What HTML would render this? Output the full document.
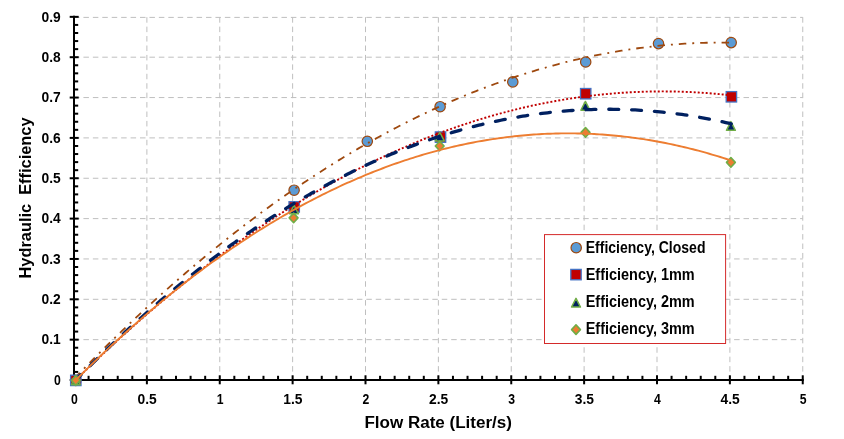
<!DOCTYPE html>
<html><head><meta charset="utf-8"><title>Chart</title>
<style>
html,body{margin:0;padding:0;background:#fff;}
body{width:844px;height:439px;overflow:hidden;font-family:"Liberation Sans",sans-serif;}
svg{display:block;will-change:transform;}
text{font-family:"Liberation Sans",sans-serif;font-weight:bold;fill:#000;}
</style></head><body>
<svg width="844" height="439" viewBox="0 0 844 439">
<rect x="0" y="0" width="844" height="439" fill="#ffffff"/>

<g stroke="#bfbfbf" stroke-width="1" stroke-dasharray="5.5 3.93" fill="none">
<line x1="74.00" y1="339.65" x2="802.75" y2="339.65"/>
<line x1="74.00" y1="299.30" x2="802.75" y2="299.30"/>
<line x1="74.00" y1="258.95" x2="802.75" y2="258.95"/>
<line x1="74.00" y1="218.60" x2="802.75" y2="218.60"/>
<line x1="74.00" y1="178.25" x2="802.75" y2="178.25"/>
<line x1="74.00" y1="137.90" x2="802.75" y2="137.90"/>
<line x1="74.00" y1="97.55" x2="802.75" y2="97.55"/>
<line x1="74.00" y1="57.20" x2="802.75" y2="57.20"/>
<line x1="74.00" y1="17.40" x2="802.75" y2="17.40"/>
<line x1="146.88" y1="16.85" x2="146.88" y2="380.00" stroke-dashoffset="-0.35"/>
<line x1="219.75" y1="16.85" x2="219.75" y2="380.00" stroke-dashoffset="-0.35"/>
<line x1="292.62" y1="16.85" x2="292.62" y2="380.00" stroke-dashoffset="-0.35"/>
<line x1="365.50" y1="16.85" x2="365.50" y2="380.00" stroke-dashoffset="-0.35"/>
<line x1="438.38" y1="16.85" x2="438.38" y2="380.00" stroke-dashoffset="-0.35"/>
<line x1="511.25" y1="16.85" x2="511.25" y2="380.00" stroke-dashoffset="-0.35"/>
<line x1="584.12" y1="16.85" x2="584.12" y2="380.00" stroke-dashoffset="-0.35"/>
<line x1="657.00" y1="16.85" x2="657.00" y2="380.00" stroke-dashoffset="-0.35"/>
<line x1="729.88" y1="16.85" x2="729.88" y2="380.00" stroke-dashoffset="-0.35"/>
<line x1="802.75" y1="16.85" x2="802.75" y2="380.00" stroke-dashoffset="-0.35"/>
</g>
<g stroke="#000" stroke-width="2" fill="none">
<line x1="74.00" y1="15.85" x2="74.00" y2="381.00"/>
<line x1="73.00" y1="380.00" x2="803.75" y2="380.00"/>
</g><g stroke="#000" stroke-width="2" fill="none">
<line x1="69.70" y1="380.00" x2="78.70" y2="380.00"/>
<line x1="74.00" y1="371.93" x2="78.20" y2="371.93"/>
<line x1="74.00" y1="363.86" x2="78.20" y2="363.86"/>
<line x1="74.00" y1="355.79" x2="78.20" y2="355.79"/>
<line x1="74.00" y1="347.72" x2="78.20" y2="347.72"/>
<line x1="69.70" y1="339.65" x2="78.70" y2="339.65"/>
<line x1="74.00" y1="331.58" x2="78.20" y2="331.58"/>
<line x1="74.00" y1="323.51" x2="78.20" y2="323.51"/>
<line x1="74.00" y1="315.44" x2="78.20" y2="315.44"/>
<line x1="74.00" y1="307.37" x2="78.20" y2="307.37"/>
<line x1="69.70" y1="299.30" x2="78.70" y2="299.30"/>
<line x1="74.00" y1="291.23" x2="78.20" y2="291.23"/>
<line x1="74.00" y1="283.16" x2="78.20" y2="283.16"/>
<line x1="74.00" y1="275.09" x2="78.20" y2="275.09"/>
<line x1="74.00" y1="267.02" x2="78.20" y2="267.02"/>
<line x1="69.70" y1="258.95" x2="78.70" y2="258.95"/>
<line x1="74.00" y1="250.88" x2="78.20" y2="250.88"/>
<line x1="74.00" y1="242.81" x2="78.20" y2="242.81"/>
<line x1="74.00" y1="234.74" x2="78.20" y2="234.74"/>
<line x1="74.00" y1="226.67" x2="78.20" y2="226.67"/>
<line x1="69.70" y1="218.60" x2="78.70" y2="218.60"/>
<line x1="74.00" y1="210.53" x2="78.20" y2="210.53"/>
<line x1="74.00" y1="202.46" x2="78.20" y2="202.46"/>
<line x1="74.00" y1="194.39" x2="78.20" y2="194.39"/>
<line x1="74.00" y1="186.32" x2="78.20" y2="186.32"/>
<line x1="69.70" y1="178.25" x2="78.70" y2="178.25"/>
<line x1="74.00" y1="170.18" x2="78.20" y2="170.18"/>
<line x1="74.00" y1="162.11" x2="78.20" y2="162.11"/>
<line x1="74.00" y1="154.04" x2="78.20" y2="154.04"/>
<line x1="74.00" y1="145.97" x2="78.20" y2="145.97"/>
<line x1="69.70" y1="137.90" x2="78.70" y2="137.90"/>
<line x1="74.00" y1="129.83" x2="78.20" y2="129.83"/>
<line x1="74.00" y1="121.76" x2="78.20" y2="121.76"/>
<line x1="74.00" y1="113.69" x2="78.20" y2="113.69"/>
<line x1="74.00" y1="105.62" x2="78.20" y2="105.62"/>
<line x1="69.70" y1="97.55" x2="78.70" y2="97.55"/>
<line x1="74.00" y1="89.48" x2="78.20" y2="89.48"/>
<line x1="74.00" y1="81.41" x2="78.20" y2="81.41"/>
<line x1="74.00" y1="73.34" x2="78.20" y2="73.34"/>
<line x1="74.00" y1="65.27" x2="78.20" y2="65.27"/>
<line x1="69.70" y1="57.20" x2="78.70" y2="57.20"/>
<line x1="74.00" y1="49.13" x2="78.20" y2="49.13"/>
<line x1="74.00" y1="41.06" x2="78.20" y2="41.06"/>
<line x1="74.00" y1="32.99" x2="78.20" y2="32.99"/>
<line x1="74.00" y1="24.92" x2="78.20" y2="24.92"/>
<line x1="69.70" y1="16.85" x2="78.70" y2="16.85"/>
<line x1="74.00" y1="375.30" x2="74.00" y2="384.30"/>
<line x1="88.58" y1="375.80" x2="88.58" y2="380.00"/>
<line x1="103.15" y1="375.80" x2="103.15" y2="380.00"/>
<line x1="117.72" y1="375.80" x2="117.72" y2="380.00"/>
<line x1="132.30" y1="375.80" x2="132.30" y2="380.00"/>
<line x1="146.88" y1="375.30" x2="146.88" y2="384.30"/>
<line x1="161.45" y1="375.80" x2="161.45" y2="380.00"/>
<line x1="176.02" y1="375.80" x2="176.02" y2="380.00"/>
<line x1="190.60" y1="375.80" x2="190.60" y2="380.00"/>
<line x1="205.18" y1="375.80" x2="205.18" y2="380.00"/>
<line x1="219.75" y1="375.30" x2="219.75" y2="384.30"/>
<line x1="234.33" y1="375.80" x2="234.33" y2="380.00"/>
<line x1="248.90" y1="375.80" x2="248.90" y2="380.00"/>
<line x1="263.48" y1="375.80" x2="263.48" y2="380.00"/>
<line x1="278.05" y1="375.80" x2="278.05" y2="380.00"/>
<line x1="292.62" y1="375.30" x2="292.62" y2="384.30"/>
<line x1="307.20" y1="375.80" x2="307.20" y2="380.00"/>
<line x1="321.77" y1="375.80" x2="321.77" y2="380.00"/>
<line x1="336.35" y1="375.80" x2="336.35" y2="380.00"/>
<line x1="350.93" y1="375.80" x2="350.93" y2="380.00"/>
<line x1="365.50" y1="375.30" x2="365.50" y2="384.30"/>
<line x1="380.07" y1="375.80" x2="380.07" y2="380.00"/>
<line x1="394.65" y1="375.80" x2="394.65" y2="380.00"/>
<line x1="409.22" y1="375.80" x2="409.22" y2="380.00"/>
<line x1="423.80" y1="375.80" x2="423.80" y2="380.00"/>
<line x1="438.38" y1="375.30" x2="438.38" y2="384.30"/>
<line x1="452.95" y1="375.80" x2="452.95" y2="380.00"/>
<line x1="467.53" y1="375.80" x2="467.53" y2="380.00"/>
<line x1="482.10" y1="375.80" x2="482.10" y2="380.00"/>
<line x1="496.68" y1="375.80" x2="496.68" y2="380.00"/>
<line x1="511.25" y1="375.30" x2="511.25" y2="384.30"/>
<line x1="525.83" y1="375.80" x2="525.83" y2="380.00"/>
<line x1="540.40" y1="375.80" x2="540.40" y2="380.00"/>
<line x1="554.97" y1="375.80" x2="554.97" y2="380.00"/>
<line x1="569.55" y1="375.80" x2="569.55" y2="380.00"/>
<line x1="584.12" y1="375.30" x2="584.12" y2="384.30"/>
<line x1="598.70" y1="375.80" x2="598.70" y2="380.00"/>
<line x1="613.27" y1="375.80" x2="613.27" y2="380.00"/>
<line x1="627.85" y1="375.80" x2="627.85" y2="380.00"/>
<line x1="642.42" y1="375.80" x2="642.42" y2="380.00"/>
<line x1="657.00" y1="375.30" x2="657.00" y2="384.30"/>
<line x1="671.57" y1="375.80" x2="671.57" y2="380.00"/>
<line x1="686.15" y1="375.80" x2="686.15" y2="380.00"/>
<line x1="700.73" y1="375.80" x2="700.73" y2="380.00"/>
<line x1="715.30" y1="375.80" x2="715.30" y2="380.00"/>
<line x1="729.88" y1="375.30" x2="729.88" y2="384.30"/>
<line x1="744.45" y1="375.80" x2="744.45" y2="380.00"/>
<line x1="759.02" y1="375.80" x2="759.02" y2="380.00"/>
<line x1="773.60" y1="375.80" x2="773.60" y2="380.00"/>
<line x1="788.18" y1="375.80" x2="788.18" y2="380.00"/>
<line x1="802.75" y1="375.30" x2="802.75" y2="384.30"/>
</g>
<circle cx="75.80" cy="380.40" r="5.2" fill="#5b9bd5" stroke="#9e480e" stroke-width="1.2"/>
<circle cx="294.10" cy="190.20" r="5.2" fill="#5b9bd5" stroke="#9e480e" stroke-width="1.2"/>
<circle cx="367.30" cy="141.30" r="5.2" fill="#5b9bd5" stroke="#9e480e" stroke-width="1.2"/>
<circle cx="440.10" cy="106.70" r="5.2" fill="#5b9bd5" stroke="#9e480e" stroke-width="1.2"/>
<circle cx="512.80" cy="81.90" r="5.2" fill="#5b9bd5" stroke="#9e480e" stroke-width="1.2"/>
<circle cx="585.70" cy="62.00" r="5.2" fill="#5b9bd5" stroke="#9e480e" stroke-width="1.2"/>
<circle cx="658.50" cy="43.60" r="5.2" fill="#5b9bd5" stroke="#9e480e" stroke-width="1.2"/>
<circle cx="731.20" cy="42.60" r="5.2" fill="#5b9bd5" stroke="#9e480e" stroke-width="1.2"/>
<path d="M75.60 377.19 L78.34 374.36 L81.09 371.54 L83.83 368.73 L86.57 365.93 L89.32 363.15 L92.06 360.38 L94.80 357.61 L97.55 354.87 L100.29 352.13 L103.03 349.40 L105.78 346.69 L108.52 343.99 L111.26 341.30 L114.01 338.63 L116.75 335.96 L119.49 333.31 L122.24 330.67 L124.98 328.04 L127.72 325.42 L130.47 322.82 L133.21 320.23 L135.95 317.65 L138.70 315.08 L141.44 312.52 L144.18 309.98 L146.93 307.45 L149.67 304.93 L152.41 302.42 L155.16 299.92 L157.90 297.44 L160.64 294.97 L163.39 292.51 L166.13 290.06 L168.87 287.63 L171.62 285.20 L174.36 282.79 L177.10 280.39 L179.85 278.00 L182.59 275.63 L185.33 273.26 L188.08 270.91 L190.82 268.57 L193.56 266.25 L196.31 263.93 L199.05 261.63 L201.79 259.34 L204.54 257.06 L207.28 254.79 L210.02 252.54 L212.77 250.29 L215.51 248.06 L218.25 245.84 L221.00 243.64 L223.74 241.44 L226.48 239.26 L229.23 237.09 L231.97 234.93 L234.71 232.78 L237.46 230.65 L240.20 228.53 L242.94 226.42 L245.68 224.32 L248.43 222.23 L251.17 220.16 L253.91 218.10 L256.66 216.04 L259.40 214.01 L262.14 211.98 L264.89 209.97 L267.63 207.96 L270.37 205.97 L273.12 204.00 L275.86 202.03 L278.60 200.08 L281.35 198.14 L284.09 196.21 L286.83 194.29 L289.58 192.38 L292.32 190.49 L295.06 188.61 L297.81 186.74 L300.55 184.88 L303.29 183.03 L306.04 181.20 L308.78 179.38 L311.52 177.57 L314.27 175.77 L317.01 173.99 L319.75 172.21 L322.50 170.45 L325.24 168.70 L327.98 166.97 L330.73 165.24 L333.47 163.53 L336.21 161.83 L338.96 160.14 L341.70 158.46 L344.44 156.80 L347.19 155.15 L349.93 153.50 L352.67 151.88 L355.42 150.26 L358.16 148.65 L360.90 147.06 L363.65 145.48 L366.39 143.91 L369.13 142.36 L371.88 140.81 L374.62 139.28 L377.36 137.76 L380.11 136.25 L382.85 134.76 L385.59 133.27 L388.34 131.80 L391.08 130.34 L393.82 128.89 L396.57 127.46 L399.31 126.03 L402.05 124.62 L404.80 123.22 L407.54 121.83 L410.28 120.46 L413.03 119.09 L415.77 117.74 L418.51 116.40 L421.26 115.07 L424.00 113.76 L426.74 112.46 L429.49 111.16 L432.23 109.88 L434.97 108.62 L437.72 107.36 L440.46 106.12 L443.20 104.89 L445.95 103.67 L448.69 102.46 L451.43 101.27 L454.18 100.08 L456.92 98.91 L459.66 97.75 L462.41 96.61 L465.15 95.47 L467.89 94.35 L470.64 93.24 L473.38 92.14 L476.12 91.05 L478.87 89.98 L481.61 88.92 L484.35 87.87 L487.10 86.83 L489.84 85.80 L492.58 84.79 L495.33 83.78 L498.07 82.79 L500.81 81.82 L503.56 80.85 L506.30 79.89 L509.04 78.95 L511.79 78.02 L514.53 77.10 L517.27 76.20 L520.02 75.30 L522.76 74.42 L525.50 73.55 L528.25 72.70 L530.99 71.85 L533.73 71.02 L536.48 70.19 L539.22 69.38 L541.96 68.59 L544.71 67.80 L547.45 67.03 L550.19 66.27 L552.94 65.52 L555.68 64.78 L558.42 64.05 L561.17 63.34 L563.91 62.64 L566.65 61.95 L569.39 61.27 L572.14 60.61 L574.88 59.96 L577.62 59.31 L580.37 58.69 L583.11 58.07 L585.85 57.46 L588.60 56.87 L591.34 56.29 L594.08 55.72 L596.83 55.16 L599.57 54.62 L602.31 54.09 L605.06 53.57 L607.80 53.06 L610.54 52.56 L613.29 52.08 L616.03 51.61 L618.77 51.14 L621.52 50.70 L624.26 50.26 L627.00 49.84 L629.75 49.42 L632.49 49.02 L635.23 48.64 L637.98 48.26 L640.72 47.90 L643.46 47.54 L646.21 47.20 L648.95 46.88 L651.69 46.56 L654.44 46.26 L657.18 45.96 L659.92 45.68 L662.67 45.42 L665.41 45.16 L668.15 44.92 L670.90 44.69 L673.64 44.47 L676.38 44.26 L679.13 44.06 L681.87 43.88 L684.61 43.71 L687.36 43.55 L690.10 43.40 L692.84 43.27 L695.59 43.15 L698.33 43.03 L701.07 42.94 L703.82 42.85 L706.56 42.77 L709.30 42.71 L712.05 42.66 L714.79 42.62 L717.53 42.59 L720.28 42.58 L723.02 42.58 L725.76 42.59 L728.51 42.61 L731.25 42.64" fill="none" stroke="#9e480e" stroke-width="1.8" stroke-dasharray="7.5 5.98 1.94 5.98" stroke-dashoffset="1.37"/>
<rect x="70.60" y="375.20" width="10.4" height="10.4" fill="#c00000" stroke="#4472c4" stroke-width="1.3"/>
<rect x="289.00" y="201.70" width="10.4" height="10.4" fill="#c00000" stroke="#4472c4" stroke-width="1.3"/>
<rect x="435.30" y="131.90" width="10.4" height="10.4" fill="#c00000" stroke="#4472c4" stroke-width="1.3"/>
<rect x="580.50" y="88.50" width="10.4" height="10.4" fill="#c00000" stroke="#4472c4" stroke-width="1.3"/>
<rect x="726.20" y="91.60" width="10.4" height="10.4" fill="#c00000" stroke="#4472c4" stroke-width="1.3"/>
<path d="M75.60 380.18 L78.34 377.49 L81.09 374.81 L83.83 372.14 L86.57 369.48 L89.32 366.84 L92.06 364.21 L94.80 361.59 L97.55 358.99 L100.29 356.40 L103.03 353.82 L105.78 351.25 L108.52 348.70 L111.26 346.15 L114.01 343.62 L116.75 341.11 L119.49 338.60 L122.24 336.11 L124.98 333.64 L127.72 331.17 L130.47 328.72 L133.21 326.28 L135.95 323.85 L138.70 321.43 L141.44 319.03 L144.18 316.64 L146.93 314.26 L149.67 311.90 L152.41 309.54 L155.16 307.20 L157.90 304.88 L160.64 302.56 L163.39 300.26 L166.13 297.97 L168.87 295.69 L171.62 293.43 L174.36 291.18 L177.10 288.94 L179.85 286.71 L182.59 284.50 L185.33 282.30 L188.08 280.11 L190.82 277.94 L193.56 275.77 L196.31 273.62 L199.05 271.48 L201.79 269.36 L204.54 267.25 L207.28 265.15 L210.02 263.06 L212.77 260.98 L215.51 258.92 L218.25 256.87 L221.00 254.84 L223.74 252.81 L226.48 250.80 L229.23 248.80 L231.97 246.81 L234.71 244.84 L237.46 242.88 L240.20 240.93 L242.94 238.99 L245.68 237.07 L248.43 235.16 L251.17 233.26 L253.91 231.38 L256.66 229.50 L259.40 227.64 L262.14 225.80 L264.89 223.96 L267.63 222.14 L270.37 220.33 L273.12 218.53 L275.86 216.75 L278.60 214.97 L281.35 213.21 L284.09 211.47 L286.83 209.73 L289.58 208.01 L292.32 206.30 L295.06 204.61 L297.81 202.92 L300.55 201.25 L303.29 199.59 L306.04 197.95 L308.78 196.31 L311.52 194.69 L314.27 193.09 L317.01 191.49 L319.75 189.91 L322.50 188.34 L325.24 186.78 L327.98 185.24 L330.73 183.70 L333.47 182.18 L336.21 180.68 L338.96 179.18 L341.70 177.70 L344.44 176.23 L347.19 174.77 L349.93 173.33 L352.67 171.90 L355.42 170.48 L358.16 169.07 L360.90 167.68 L363.65 166.30 L366.39 164.93 L369.13 163.58 L371.88 162.23 L374.62 160.90 L377.36 159.58 L380.11 158.28 L382.85 156.99 L385.59 155.71 L388.34 154.44 L391.08 153.18 L393.82 151.94 L396.57 150.71 L399.31 149.50 L402.05 148.29 L404.80 147.10 L407.54 145.92 L410.28 144.76 L413.03 143.60 L415.77 142.46 L418.51 141.33 L421.26 140.22 L424.00 139.11 L426.74 138.02 L429.49 136.94 L432.23 135.88 L434.97 134.83 L437.72 133.79 L440.46 132.76 L443.20 131.74 L445.95 130.74 L448.69 129.75 L451.43 128.77 L454.18 127.81 L456.92 126.86 L459.66 125.92 L462.41 124.99 L465.15 124.08 L467.89 123.18 L470.64 122.29 L473.38 121.41 L476.12 120.55 L478.87 119.70 L481.61 118.86 L484.35 118.03 L487.10 117.22 L489.84 116.42 L492.58 115.63 L495.33 114.85 L498.07 114.09 L500.81 113.34 L503.56 112.60 L506.30 111.88 L509.04 111.17 L511.79 110.47 L514.53 109.78 L517.27 109.11 L520.02 108.44 L522.76 107.80 L525.50 107.16 L528.25 106.54 L530.99 105.92 L533.73 105.33 L536.48 104.74 L539.22 104.17 L541.96 103.61 L544.71 103.06 L547.45 102.52 L550.19 102.00 L552.94 101.49 L555.68 100.99 L558.42 100.51 L561.17 100.03 L563.91 99.57 L566.65 99.13 L569.39 98.69 L572.14 98.27 L574.88 97.86 L577.62 97.46 L580.37 97.08 L583.11 96.71 L585.85 96.35 L588.60 96.00 L591.34 95.67 L594.08 95.35 L596.83 95.04 L599.57 94.74 L602.31 94.46 L605.06 94.19 L607.80 93.93 L610.54 93.69 L613.29 93.45 L616.03 93.23 L618.77 93.02 L621.52 92.83 L624.26 92.65 L627.00 92.48 L629.75 92.32 L632.49 92.18 L635.23 92.04 L637.98 91.93 L640.72 91.82 L643.46 91.72 L646.21 91.64 L648.95 91.57 L651.69 91.52 L654.44 91.47 L657.18 91.44 L659.92 91.43 L662.67 91.42 L665.41 91.43 L668.15 91.45 L670.90 91.48 L673.64 91.52 L676.38 91.58 L679.13 91.65 L681.87 91.73 L684.61 91.83 L687.36 91.94 L690.10 92.06 L692.84 92.19 L695.59 92.34 L698.33 92.49 L701.07 92.67 L703.82 92.85 L706.56 93.05 L709.30 93.25 L712.05 93.48 L714.79 93.71 L717.53 93.96 L720.28 94.22 L723.02 94.49 L725.76 94.77 L728.51 95.07 L731.25 95.38" fill="none" stroke="#c00000" stroke-width="1.9" stroke-dasharray="2 2" stroke-dashoffset="1.61"/>
<path d="M75.80 376.05 L80.25 384.75 L71.35 384.75 Z" fill="#002060" stroke="#70ad47" stroke-width="1.5" stroke-linejoin="round"/>
<path d="M294.00 205.15 L298.45 213.85 L289.55 213.85 Z" fill="#002060" stroke="#70ad47" stroke-width="1.5" stroke-linejoin="round"/>
<path d="M439.80 132.25 L444.25 140.95 L435.35 140.95 Z" fill="#002060" stroke="#70ad47" stroke-width="1.5" stroke-linejoin="round"/>
<path d="M585.40 101.45 L589.85 110.15 L580.95 110.15 Z" fill="#002060" stroke="#70ad47" stroke-width="1.5" stroke-linejoin="round"/>
<path d="M730.90 121.65 L735.35 130.35 L726.45 130.35 Z" fill="#002060" stroke="#70ad47" stroke-width="1.5" stroke-linejoin="round"/>
<path d="M75.60 380.26 L78.34 377.47 L81.09 374.70 L83.83 371.95 L86.57 369.20 L89.32 366.48 L92.06 363.76 L94.80 361.06 L97.55 358.38 L100.29 355.71 L103.03 353.05 L105.78 350.41 L108.52 347.78 L111.26 345.17 L114.01 342.57 L116.75 339.99 L119.49 337.42 L122.24 334.86 L124.98 332.32 L127.72 329.79 L130.47 327.28 L133.21 324.78 L135.95 322.30 L138.70 319.83 L141.44 317.38 L144.18 314.94 L146.93 312.51 L149.67 310.10 L152.41 307.70 L155.16 305.32 L157.90 302.95 L160.64 300.60 L163.39 298.26 L166.13 295.93 L168.87 293.62 L171.62 291.33 L174.36 289.05 L177.10 286.78 L179.85 284.52 L182.59 282.29 L185.33 280.06 L188.08 277.85 L190.82 275.66 L193.56 273.47 L196.31 271.31 L199.05 269.16 L201.79 267.02 L204.54 264.89 L207.28 262.78 L210.02 260.69 L212.77 258.61 L215.51 256.54 L218.25 254.49 L221.00 252.45 L223.74 250.43 L226.48 248.42 L229.23 246.43 L231.97 244.45 L234.71 242.48 L237.46 240.53 L240.20 238.60 L242.94 236.67 L245.68 234.77 L248.43 232.87 L251.17 230.99 L253.91 229.13 L256.66 227.28 L259.40 225.44 L262.14 223.62 L264.89 221.82 L267.63 220.02 L270.37 218.24 L273.12 216.48 L275.86 214.73 L278.60 213.00 L281.35 211.28 L284.09 209.57 L286.83 207.88 L289.58 206.20 L292.32 204.54 L295.06 202.89 L297.81 201.25 L300.55 199.63 L303.29 198.03 L306.04 196.44 L308.78 194.86 L311.52 193.30 L314.27 191.75 L317.01 190.22 L319.75 188.70 L322.50 187.19 L325.24 185.70 L327.98 184.23 L330.73 182.76 L333.47 181.32 L336.21 179.88 L338.96 178.47 L341.70 177.06 L344.44 175.67 L347.19 174.30 L349.93 172.94 L352.67 171.59 L355.42 170.26 L358.16 168.94 L360.90 167.64 L363.65 166.35 L366.39 165.07 L369.13 163.81 L371.88 162.57 L374.62 161.33 L377.36 160.12 L380.11 158.91 L382.85 157.73 L385.59 156.55 L388.34 155.39 L391.08 154.25 L393.82 153.12 L396.57 152.00 L399.31 150.90 L402.05 149.81 L404.80 148.74 L407.54 147.68 L410.28 146.64 L413.03 145.61 L415.77 144.59 L418.51 143.59 L421.26 142.60 L424.00 141.63 L426.74 140.67 L429.49 139.73 L432.23 138.80 L434.97 137.88 L437.72 136.98 L440.46 136.10 L443.20 135.23 L445.95 134.37 L448.69 133.53 L451.43 132.70 L454.18 131.88 L456.92 131.08 L459.66 130.30 L462.41 129.53 L465.15 128.77 L467.89 128.03 L470.64 127.30 L473.38 126.59 L476.12 125.89 L478.87 125.20 L481.61 124.53 L484.35 123.88 L487.10 123.24 L489.84 122.61 L492.58 122.00 L495.33 121.40 L498.07 120.82 L500.81 120.25 L503.56 119.69 L506.30 119.15 L509.04 118.62 L511.79 118.11 L514.53 117.61 L517.27 117.13 L520.02 116.66 L522.76 116.21 L525.50 115.77 L528.25 115.34 L530.99 114.93 L533.73 114.53 L536.48 114.15 L539.22 113.78 L541.96 113.43 L544.71 113.09 L547.45 112.77 L550.19 112.46 L552.94 112.16 L555.68 111.88 L558.42 111.61 L561.17 111.36 L563.91 111.12 L566.65 110.90 L569.39 110.69 L572.14 110.49 L574.88 110.31 L577.62 110.14 L580.37 109.99 L583.11 109.85 L585.85 109.73 L588.60 109.62 L591.34 109.53 L594.08 109.45 L596.83 109.38 L599.57 109.33 L602.31 109.29 L605.06 109.27 L607.80 109.26 L610.54 109.27 L613.29 109.29 L616.03 109.32 L618.77 109.37 L621.52 109.44 L624.26 109.51 L627.00 109.61 L629.75 109.71 L632.49 109.83 L635.23 109.97 L637.98 110.12 L640.72 110.29 L643.46 110.46 L646.21 110.66 L648.95 110.86 L651.69 111.09 L654.44 111.32 L657.18 111.57 L659.92 111.84 L662.67 112.12 L665.41 112.41 L668.15 112.72 L670.90 113.04 L673.64 113.38 L676.38 113.73 L679.13 114.10 L681.87 114.48 L684.61 114.87 L687.36 115.28 L690.10 115.71 L692.84 116.14 L695.59 116.60 L698.33 117.06 L701.07 117.54 L703.82 118.04 L706.56 118.55 L709.30 119.07 L712.05 119.61 L714.79 120.16 L717.53 120.73 L720.28 121.31 L723.02 121.91 L725.76 122.52 L728.51 123.15 L731.25 123.78" fill="none" stroke="#002060" stroke-width="3.3" stroke-linecap="round" stroke-dasharray="9.9 12.93" stroke-dashoffset="1.96"/>
<path d="M75.80 375.60 L80.20 380.40 L75.80 385.20 L71.40 380.40 Z" fill="#ed7d31" stroke="#70ad47" stroke-width="1.6" stroke-linejoin="round"/>
<path d="M293.60 213.10 L298.00 217.90 L293.60 222.70 L289.20 217.90 Z" fill="#ed7d31" stroke="#70ad47" stroke-width="1.6" stroke-linejoin="round"/>
<path d="M439.70 141.20 L444.10 146.00 L439.70 150.80 L435.30 146.00 Z" fill="#ed7d31" stroke="#70ad47" stroke-width="1.6" stroke-linejoin="round"/>
<path d="M585.50 127.60 L589.90 132.40 L585.50 137.20 L581.10 132.40 Z" fill="#ed7d31" stroke="#70ad47" stroke-width="1.6" stroke-linejoin="round"/>
<path d="M730.90 157.60 L735.30 162.40 L730.90 167.20 L726.50 162.40 Z" fill="#ed7d31" stroke="#70ad47" stroke-width="1.6" stroke-linejoin="round"/>
<path d="M75.60 380.26 L78.34 377.52 L81.09 374.79 L83.83 372.07 L86.57 369.38 L89.32 366.69 L92.06 364.03 L94.80 361.37 L97.55 358.74 L100.29 356.12 L103.03 353.51 L105.78 350.92 L108.52 348.34 L111.26 345.78 L114.01 343.24 L116.75 340.71 L119.49 338.19 L122.24 335.70 L124.98 333.21 L127.72 330.74 L130.47 328.29 L133.21 325.85 L135.95 323.43 L138.70 321.03 L141.44 318.63 L144.18 316.26 L146.93 313.90 L149.67 311.55 L152.41 309.22 L155.16 306.91 L157.90 304.61 L160.64 302.32 L163.39 300.06 L166.13 297.80 L168.87 295.56 L171.62 293.34 L174.36 291.13 L177.10 288.94 L179.85 286.77 L182.59 284.60 L185.33 282.46 L188.08 280.33 L190.82 278.21 L193.56 276.11 L196.31 274.03 L199.05 271.96 L201.79 269.90 L204.54 267.86 L207.28 265.84 L210.02 263.83 L212.77 261.84 L215.51 259.86 L218.25 257.90 L221.00 255.95 L223.74 254.02 L226.48 252.11 L229.23 250.21 L231.97 248.32 L234.71 246.45 L237.46 244.60 L240.20 242.76 L242.94 240.93 L245.68 239.12 L248.43 237.33 L251.17 235.55 L253.91 233.79 L256.66 232.04 L259.40 230.31 L262.14 228.59 L264.89 226.89 L267.63 225.21 L270.37 223.54 L273.12 221.88 L275.86 220.24 L278.60 218.62 L281.35 217.01 L284.09 215.41 L286.83 213.83 L289.58 212.27 L292.32 210.72 L295.06 209.19 L297.81 207.67 L300.55 206.17 L303.29 204.69 L306.04 203.21 L308.78 201.76 L311.52 200.32 L314.27 198.89 L317.01 197.48 L319.75 196.09 L322.50 194.71 L325.24 193.34 L327.98 192.00 L330.73 190.66 L333.47 189.34 L336.21 188.04 L338.96 186.75 L341.70 185.48 L344.44 184.23 L347.19 182.98 L349.93 181.76 L352.67 180.55 L355.42 179.35 L358.16 178.17 L360.90 177.01 L363.65 175.86 L366.39 174.72 L369.13 173.61 L371.88 172.50 L374.62 171.41 L377.36 170.34 L380.11 169.28 L382.85 168.24 L385.59 167.22 L388.34 166.20 L391.08 165.21 L393.82 164.23 L396.57 163.26 L399.31 162.31 L402.05 161.38 L404.80 160.46 L407.54 159.56 L410.28 158.67 L413.03 157.79 L415.77 156.94 L418.51 156.09 L421.26 155.27 L424.00 154.45 L426.74 153.66 L429.49 152.88 L432.23 152.11 L434.97 151.36 L437.72 150.62 L440.46 149.90 L443.20 149.20 L445.95 148.51 L448.69 147.84 L451.43 147.18 L454.18 146.53 L456.92 145.91 L459.66 145.29 L462.41 144.70 L465.15 144.11 L467.89 143.55 L470.64 143.00 L473.38 142.46 L476.12 141.94 L478.87 141.44 L481.61 140.95 L484.35 140.47 L487.10 140.01 L489.84 139.57 L492.58 139.14 L495.33 138.73 L498.07 138.33 L500.81 137.95 L503.56 137.58 L506.30 137.23 L509.04 136.89 L511.79 136.57 L514.53 136.26 L517.27 135.97 L520.02 135.70 L522.76 135.44 L525.50 135.19 L528.25 134.96 L530.99 134.75 L533.73 134.55 L536.48 134.37 L539.22 134.20 L541.96 134.05 L544.71 133.91 L547.45 133.79 L550.19 133.68 L552.94 133.59 L555.68 133.51 L558.42 133.45 L561.17 133.41 L563.91 133.38 L566.65 133.36 L569.39 133.37 L572.14 133.38 L574.88 133.41 L577.62 133.46 L580.37 133.52 L583.11 133.60 L585.85 133.69 L588.60 133.80 L591.34 133.92 L594.08 134.06 L596.83 134.22 L599.57 134.39 L602.31 134.57 L605.06 134.77 L607.80 134.99 L610.54 135.22 L613.29 135.46 L616.03 135.72 L618.77 136.00 L621.52 136.29 L624.26 136.60 L627.00 136.92 L629.75 137.26 L632.49 137.62 L635.23 137.98 L637.98 138.37 L640.72 138.77 L643.46 139.18 L646.21 139.61 L648.95 140.06 L651.69 140.52 L654.44 141.00 L657.18 141.49 L659.92 141.99 L662.67 142.52 L665.41 143.05 L668.15 143.61 L670.90 144.17 L673.64 144.76 L676.38 145.36 L679.13 145.97 L681.87 146.60 L684.61 147.25 L687.36 147.91 L690.10 148.58 L692.84 149.27 L695.59 149.98 L698.33 150.70 L701.07 151.44 L703.82 152.19 L706.56 152.96 L709.30 153.74 L712.05 154.54 L714.79 155.35 L717.53 156.18 L720.28 157.02 L723.02 157.88 L725.76 158.76 L728.51 159.65 L731.25 160.55" fill="none" stroke="#ed7d31" stroke-width="1.9"/>
<g font-size="14">
<text x="60.8" y="384.70" text-anchor="end" textLength="6.8" lengthAdjust="spacingAndGlyphs">0</text>
<text x="60.8" y="344.35" text-anchor="end" textLength="19.2" lengthAdjust="spacingAndGlyphs">0.1</text>
<text x="60.8" y="304.00" text-anchor="end" textLength="19.2" lengthAdjust="spacingAndGlyphs">0.2</text>
<text x="60.8" y="263.65" text-anchor="end" textLength="19.2" lengthAdjust="spacingAndGlyphs">0.3</text>
<text x="60.8" y="223.30" text-anchor="end" textLength="19.2" lengthAdjust="spacingAndGlyphs">0.4</text>
<text x="60.8" y="182.95" text-anchor="end" textLength="19.2" lengthAdjust="spacingAndGlyphs">0.5</text>
<text x="60.8" y="142.60" text-anchor="end" textLength="19.2" lengthAdjust="spacingAndGlyphs">0.6</text>
<text x="60.8" y="102.25" text-anchor="end" textLength="19.2" lengthAdjust="spacingAndGlyphs">0.7</text>
<text x="60.8" y="61.90" text-anchor="end" textLength="19.2" lengthAdjust="spacingAndGlyphs">0.8</text>
<text x="60.8" y="21.55" text-anchor="end" textLength="19.2" lengthAdjust="spacingAndGlyphs">0.9</text>
<text x="74.30" y="404.0" text-anchor="middle" textLength="6.8" lengthAdjust="spacingAndGlyphs">0</text>
<text x="147.18" y="404.0" text-anchor="middle" textLength="19.2" lengthAdjust="spacingAndGlyphs">0.5</text>
<text x="220.05" y="404.0" text-anchor="middle" textLength="6.8" lengthAdjust="spacingAndGlyphs">1</text>
<text x="292.93" y="404.0" text-anchor="middle" textLength="19.2" lengthAdjust="spacingAndGlyphs">1.5</text>
<text x="365.80" y="404.0" text-anchor="middle" textLength="6.8" lengthAdjust="spacingAndGlyphs">2</text>
<text x="438.68" y="404.0" text-anchor="middle" textLength="19.2" lengthAdjust="spacingAndGlyphs">2.5</text>
<text x="511.55" y="404.0" text-anchor="middle" textLength="6.8" lengthAdjust="spacingAndGlyphs">3</text>
<text x="584.42" y="404.0" text-anchor="middle" textLength="19.2" lengthAdjust="spacingAndGlyphs">3.5</text>
<text x="657.30" y="404.0" text-anchor="middle" textLength="6.8" lengthAdjust="spacingAndGlyphs">4</text>
<text x="730.17" y="404.0" text-anchor="middle" textLength="19.2" lengthAdjust="spacingAndGlyphs">4.5</text>
<text x="803.05" y="404.0" text-anchor="middle" textLength="6.8" lengthAdjust="spacingAndGlyphs">5</text>
</g>
<text x="438.2" y="428.4" font-size="16" text-anchor="middle" textLength="147.5" lengthAdjust="spacingAndGlyphs">Flow Rate (Liter/s)</text>
<text transform="translate(30.6 198) rotate(-90)" font-size="16" text-anchor="middle" textLength="161" lengthAdjust="spacingAndGlyphs" style="white-space:pre">Hydraulic  Efficiency</text>
<rect x="544.5" y="234.6" width="181.1" height="108.9" fill="#fff" stroke="#d42a2a" stroke-width="1"/>
<circle cx="576.20" cy="247.70" r="5.2" fill="#5b9bd5" stroke="#9e480e" stroke-width="1.2"/>
<rect x="570.80" y="269.40" width="10.4" height="10.4" fill="#c00000" stroke="#4472c4" stroke-width="1.3"/>
<path d="M576.00 298.35 L580.45 307.05 L571.55 307.05 Z" fill="#002060" stroke="#70ad47" stroke-width="1.5" stroke-linejoin="round"/>
<path d="M576.00 324.80 L580.40 329.60 L576.00 334.40 L571.60 329.60 Z" fill="#ed7d31" stroke="#70ad47" stroke-width="1.6" stroke-linejoin="round"/>
<g font-size="15.8">
<text x="585.7" y="253.0" textLength="119.8" lengthAdjust="spacingAndGlyphs">Efficiency, Closed</text>
<text x="585.7" y="279.7" textLength="109.0" lengthAdjust="spacingAndGlyphs">Efficiency, 1mm</text>
<text x="585.7" y="307.0" textLength="109.0" lengthAdjust="spacingAndGlyphs">Efficiency, 2mm</text>
<text x="585.7" y="334.0" textLength="109.0" lengthAdjust="spacingAndGlyphs">Efficiency, 3mm</text>
</g>
</svg></body></html>
